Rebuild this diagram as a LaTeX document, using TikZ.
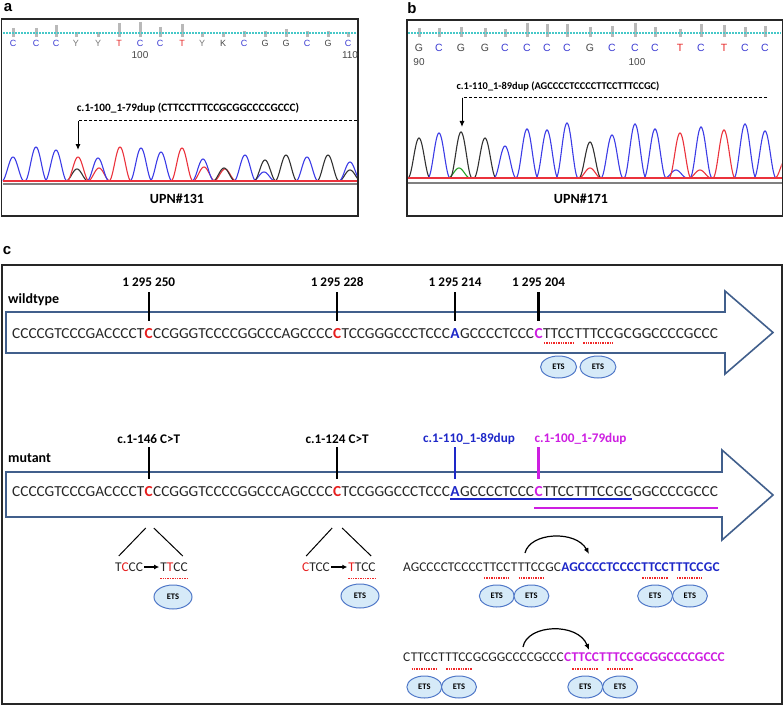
\documentclass[tikz,border=0pt]{standalone}
\usepackage{fontspec}
\setmainfont{Carlito}
\newfontfamily\arialf{Liberation Sans}
\usetikzlibrary{arrows.meta,shapes.geometric,calc}
\definecolor{seqblue}{RGB}{30,40,200}
\definecolor{seqmag}{RGB}{205,30,225}
\definecolor{seqred}{RGB}{230,30,30}
\definecolor{ulred}{RGB}{240,40,40}
\definecolor{arrowcol}{RGB}{65,95,140}
\definecolor{etsfill}{RGB}{214,234,248}
\definecolor{etsdraw}{RGB}{80,120,200}
\definecolor{cyanl}{RGB}{70,200,200}
\definecolor{pkblue}{RGB}{60,60,230}
\definecolor{pkred}{RGB}{235,50,60}
\definecolor{pkblack}{RGB}{50,50,50}
\definecolor{pkgreen}{RGB}{40,160,40}
\definecolor{lb}{RGB}{60,60,210}
\definecolor{lr}{RGB}{230,40,40}
\definecolor{lg}{RGB}{120,120,120}
\definecolor{lk}{RGB}{70,70,70}
\newcommand\chrompeak[4]{\draw[#4,line width=1.1pt] plot[domain=-11:11,samples=23,smooth] ({#1+\x},{#3-#2*(1+cos(180*\x/11))/2});}
\begin{document}
\begin{tikzpicture}[x=1pt,y=-1pt,
  seg/.style={inner sep=0pt, anchor=base west, font=\fontsize{15.3}{18}\selectfont, text=black!85},
  segb/.style={seg, font=\fontsize{15.3}{18}\selectfont\bfseries},
  dseg/.style={inner sep=0pt, anchor=base west, font=\fontsize{13.4}{16}\selectfont, text=black!85},
  dsegb/.style={dseg, font=\fontsize{13.4}{16}\selectfont\bfseries},
  small/.style={inner sep=1pt, font=\fontsize{13.4}{16}\selectfont, text=black!85},
  tickmark/.style={line width=2.5pt},
  lab/.style={font=\bfseries\fontsize{13.2}{15}\selectfont, inner sep=0pt},
  rowlab/.style={font=\bfseries\fontsize{14}{16}\selectfont, inner sep=0pt, anchor=west},
  ets/.style={ellipse, draw=etsdraw, fill=etsfill, line width=1pt, minimum width=36pt, minimum height=22pt, inner sep=0pt, font=\bfseries\fontsize{8.5}{9}\selectfont},
  etsp/.style={ets, minimum width=35pt},
  ul/.style={draw=ulred, line width=1.2pt, dash pattern=on 1.4pt off 1pt},
  dna/.style={draw=arrowcol, line width=1.6pt},
  panel/.style={draw=black!85, line width=1.6pt},
  bar/.style={draw=gray!55, line width=3pt},
  plab/.style={font=\arialf\bfseries\fontsize{15}{17}\selectfont, inner sep=0pt},
  annot/.style={font=\bfseries\fontsize{11.3}{13}\selectfont, inner sep=0pt},
  upn/.style={font=\bfseries\fontsize{14}{16}\selectfont, inner sep=0pt}
]
\useasboundingbox (0,0) rectangle (784,706);

% ---------------- panel a ----------------
\node[plab] (pa) at (8,8) {a};
\draw[panel] (1.5,19) rectangle (358,216);
\foreach \bx/\bl/\bc/\bt [count=\i] in {13/C/lb/28, 36/C/lb/28, 56/C/lb/25, 76/Y/lg/32, 98/Y/lg/32, 119/T/lr/23, 140/C/lb/22, 160/C/lb/27, 182/T/lr/24, 202/Y/lg/32, 223/K/lk/32, 244/C/lb/31, 265/G/lk/31, 286/G/lk/29, 307/C/lb/31, 328/G/lk/31, 348/C/lb/32}{
  \draw[bar] (\bx,\bt) -- (\bx,37);
  \node[font=\arialf\fontsize{9}{10}\selectfont, text=\bc, inner sep=0pt] (la\i) at (\bx,43) {\bl};
}
\draw[cyanl, line width=1.2pt, dash pattern=on 1.5pt off 1.5pt] (3,33) -- (357,33);
\node[font=\arialf\fontsize{10}{11}\selectfont, text=lk, inner sep=0pt] (na1) at (140,55) {100};
\node[font=\arialf\fontsize{10}{11}\selectfont, text=lk, inner sep=0pt] (na2) at (350,55) {110};
\node[annot] (anA) at (188,108) {c.1-100\_1-79dup (CTTCCTTTCCGCGGCCCCGCCC)};
\coordinate (aA) at (78,121);
\coordinate (aAend) at (357,121);
\coordinate (aAtip) at (78,150);
\draw[line width=1pt, dash pattern=on 3pt off 2pt] (aAend) -- (aA);
\draw[line width=1pt, -{Latex[length=6pt,width=5pt]}] (aA) -- (aAtip);
\begin{scope}
\clip (2.5,100) rectangle (357,181.5);
\foreach \px/\ph/\pc in {13/24/pkblue, 36/34/pkblue, 56/31/pkblue, 77/12/pkblack, 78/24/pkred, 99/13/pkred, 98/23/pkblue, 120/34/pkred, 141/33/pkblue, 161/29/pkblue, 182/33/pkred, 204/14/pkred, 203/22/pkblue, 225/12/pkred, 224/13/pkblack, 245/26/pkblue, 264/9/pkblue, 265/21/pkblack, 286/26/pkblack, 307/24/pkblue, 328/26/pkblack, 350/11/pkblack, 350/19/pkblue}{
  \chrompeak{\px}{\ph}{181}{\pc}
}
\end{scope}
\draw[pkred, line width=1.3pt] (2.5,181) -- (357,181);
\draw[gray, line width=1.2pt] (2.5,184) -- (357,184);
\node[upn] (upa) at (177,199) {UPN\#131};

% ---------------- panel b ----------------
\node[plab] (pb) at (412,8) {b};
\draw[panel] (407,20) rectangle (782.5,216);
\foreach \bx/\bl/\bc/\bt [count=\i] in {419/G/lk/28, 439/C/lb/28, 461/G/lk/27, 485/G/lk/28, 505/C/lb/29, 527/C/lb/23, 547/C/lb/24, 567/C/lb/24, 590/G/lk/27, 612/C/lb/26, 635/C/lb/23, 655/C/lb/27, 680/T/lr/29, 701/C/lb/24, 724/T/lr/25, 745/C/lb/27, 765/C/lb/26}{
  \draw[bar] (\bx,\bt) -- (\bx,37);
  \node[font=\arialf\fontsize{10.5}{12}\selectfont, text=\bc, inner sep=0pt] (lb\i) at (\bx,48) {\bl};
}
\draw[cyanl, line width=1.2pt, dash pattern=on 1.5pt off 1.5pt] (408,33) -- (781,33);
\node[font=\arialf\fontsize{10}{11}\selectfont, text=lk, inner sep=0pt] (nb1) at (419,62) {90};
\node[font=\arialf\fontsize{10}{11}\selectfont, text=lk, inner sep=0pt] (nb2) at (637,62) {100};
\node[annot, font=\bfseries\fontsize{10.4}{12}\selectfont] (anB) at (558,86) {c.1-110\_1-89dup (AGCCCCTCCCCTTCCTTTCCGC)};
\coordinate (bA) at (462,98);
\coordinate (bAend) at (767,98);
\coordinate (bAtip) at (462,127);
\draw[line width=1pt, dash pattern=on 3pt off 2pt] (bAend) -- (bA);
\draw[line width=1pt, -{Latex[length=6pt,width=5pt]}] (bA) -- (bAtip);
\begin{scope}
\clip (408,90) rectangle (781.5,178.5);
\foreach \px/\ph/\pc in {419/40/pkblack, 439/45/pkblue, 459/10/pkgreen, 461/46/pkblack, 485/40/pkblack, 505/32/pkblue, 527/49/pkblue, 547/48/pkblue, 567/55/pkblue, 590/10/pkred, 590/36/pkblack, 612/43/pkblue, 635/54/pkblue, 655/49/pkblue, 676/8/pkblue, 680/45/pkred, 700/8/pkred, 701/51/pkblue, 724/48/pkred, 745/54/pkblue, 765/47/pkblue, 786/20/pkred}{
  \chrompeak{\px}{\ph}{178}{\pc}
}
\end{scope}
\draw[pkred, line width=2pt] (408,178) -- (781.5,178);
\draw[gray, line width=1.2pt] (408,183) -- (781.5,183);
\node[upn] (upb) at (581,199) {UPN\#171};

% ---------------- panel c ----------------
\node[plab] (pc) at (7,251) {c};
\draw[panel] (2,265) rectangle (782,704);

% wildtype
\node[rowlab] (wt) at (8,300) {wildtype};
\draw[dna] (6,312) -- (725,312) -- (725,291) -- (773,332.5) -- (725,374) -- (725,353) -- (6,353) -- cycle;
\node[seg] (w1) at (12,338) {CCCCGTCCCGACCCCT};
\node[segb, text=seqred] (w2) at (w1.base east) {C};
\node[seg] (w3) at (w2.base east) {CCGGGTCCCCGGCCCAGCCCC};
\node[segb, text=seqred] (w4) at (w3.base east) {C};
\node[seg] (w5) at (w4.base east) {TCCGGGCCCTCCC};
\node[segb, text=seqblue] (w6) at (w5.base east) {A};
\node[seg] (w7) at (w6.base east) {GCCCCTCCC};
\node[segb, text=seqmag] (w8) at (w7.base east) {C};
\node[seg] (w9) at (w8.base east) {TTCC};
\node[seg] (w10) at (w9.base east) {T};
\node[seg] (w11) at (w10.base east) {TTCC};
\node[seg] (w12) at (w11.base east) {GC};
\node[seg] (w13) at (w12.base east) {GGCCCCGCCC};
\coordinate (tTW) at (0,292);
\coordinate (tBW) at (0,321);
\coordinate (lW) at (0,282);
\foreach \n/\t [count=\i] in {w2/1 295 250, w4/1 295 228, w6/1 295 214, w8/1 295 204}{
  \draw[tickmark] (\n.center |- tTW) -- (\n.center |- tBW);
  \node[lab] (wl\i) at (\n.center |- lW) {\t};
}
\draw[ul] ([xshift=1pt,yshift=-5pt]w9.base west) -- ([xshift=-1pt,yshift=-5pt]w9.base east);
\draw[ul] ([xshift=1pt,yshift=-5pt]w11.base west) -- ([xshift=-1pt,yshift=-5pt]w11.base east);
\coordinate (eW) at (0,367);
\node[ets] (ew1) at (w9.center |- eW) {ETS};
\node[ets] (ew2) at (w11.center |- eW) {ETS};

% mutant
\node[rowlab] (mt) at (8,458) {mutant};
\draw[dna] (6,472) -- (722,472) -- (722,450) -- (773,495) -- (722,540) -- (722,517) -- (6,517) -- cycle;
\node[seg] (m1) at (12,496) {CCCCGTCCCGACCCCT};
\node[segb, text=seqred] (m2) at (m1.base east) {C};
\node[seg] (m3) at (m2.base east) {CCGGGTCCCCGGCCCAGCCCC};
\node[segb, text=seqred] (m4) at (m3.base east) {C};
\node[seg] (m5) at (m4.base east) {TCCGGGCCCTCCC};
\node[segb, text=seqblue] (m6) at (m5.base east) {A};
\node[seg] (m7) at (m6.base east) {GCCCCTCCC};
\node[segb, text=seqmag] (m8) at (m7.base east) {C};
\node[seg] (m9) at (m8.base east) {TTCC};
\node[seg] (m10) at (m9.base east) {T};
\node[seg] (m11) at (m10.base east) {TTCC};
\node[seg] (m12) at (m11.base east) {GC};
\node[seg] (m13) at (m12.base east) {GGCCCCGCCC};
\coordinate (tTM) at (0,447);
\coordinate (tBM) at (0,479);
\coordinate (lM) at (0,439);
\draw[tickmark] (m2.center |- tTM) -- (m2.center |- tBM);
\draw[tickmark] (m4.center |- tTM) -- (m4.center |- tBM);
\draw[tickmark, seqblue] (m6.center |- tTM) -- (m6.center |- tBM);
\draw[tickmark, seqmag] (m8.center |- tTM) -- (m8.center |- tBM);
\node[lab] (ml1) at (m2.center |- lM) {c.1-146 C>T};
\node[lab] (ml2) at (m4.center |- lM) {c.1-124 C>T};
\path (m6.center |- lM) node[lab, text=seqblue, xshift=14pt] (ml3) {c.1-110\_1-89dup};
\path (m8.center |- lM) node[lab, text=seqmag, xshift=42pt] (ml4) {c.1-100\_1-79dup};
\draw[seqblue, line width=1.5pt] ([yshift=-3pt]m6.base west) -- ([yshift=-3pt]m12.base east);
\draw[seqmag, line width=1.5pt] ([yshift=-12pt]m8.base west) -- ([yshift=-12pt]m13.base east);

% C>T expansions
\coordinate (xA) at (0,528);
\draw[line width=1pt] (m2.center |- xA) ++(-3,0) -- ++(-27,28);
\draw[line width=1pt] (m2.center |- xA) ++(5,0) -- ++(29,28);
\draw[line width=1pt] (m4.center |- xA) ++(-5,0) -- ++(-26,28);
\draw[line width=1pt] (m4.center |- xA) ++(5,0) -- ++(29,28);
\node[small] (t1) at (129,567) {T\textcolor{seqred}{C}CC};
\node[small] (t2) at (174,567) {T\textcolor{seqred}{T}CC};
\draw[line width=1.2pt, -{Latex[length=5pt,width=5pt]}] (t1) -- (t2);
\node[small] (t3) at (316,567) {\textcolor{seqred}{C}TCC};
\node[small] (t4) at (362,567) {\textcolor{seqred}{T}TCC};
\draw[line width=1.2pt, -{Latex[length=5pt,width=5pt]}] (t3) -- (t4);
\draw[ul] ([xshift=1pt,yshift=-7pt]t2.base west) -- ([xshift=-1pt,yshift=-7pt]t2.base east);
\draw[ul] ([xshift=1pt,yshift=-7pt]t4.base west) -- ([xshift=-1pt,yshift=-7pt]t4.base east);
\node[ets, minimum width=38pt, minimum height=24pt] (et1) at (173,597) {ETS};
\node[ets, minimum width=38pt, minimum height=24pt] (et2) at (360,596) {ETS};

% duplication row 1
\node[dseg] (d1) at (403,571.3) {AGCCCCTCCCC};
\node[dseg] (d2) at (d1.base east) {TTCC};
\node[dseg] (d3) at (d2.base east) {T};
\node[dseg] (d4) at (d3.base east) {TTCC};
\node[dseg] (d5) at (d4.base east) {GC};
\node[dsegb, text=seqblue] (d6) at (d5.base east) {AGCCCCTCCCC};
\node[dsegb, text=seqblue] (d7) at (d6.base east) {TTCC};
\node[dsegb, text=seqblue] (d8) at (d7.base east) {T};
\node[dsegb, text=seqblue] (d9) at (d8.base east) {TTCC};
\node[dsegb, text=seqblue] (d10) at (d9.base east) {GC};
\foreach \n in {d2,d4,d7,d9}{
  \draw[ul] ([xshift=1pt,yshift=-6.7pt]\n.base west) -- ([xshift=-1pt,yshift=-6.7pt]\n.base east);
}
\coordinate (eD) at (0,596);
\node[etsp] (ed1) at (d2.center |- eD) {ETS};
\node[etsp] (ed2) at (d4.center |- eD) {ETS};
\node[etsp] (ed3) at (d7.center |- eD) {ETS};
\node[etsp] (ed4) at (d9.center |- eD) {ETS};
\coordinate (c1s) at (525,553);
\coordinate (c1e) at (589,554);
\draw[line width=1.2pt, -{Latex[length=6pt,width=5pt]}] (c1s) .. controls (530,532) and (576,530) .. (c1e);

% duplication row 2
\node[dseg] (f1) at (403,661.3) {C};
\node[dseg] (f2) at (f1.base east) {TTCC};
\node[dseg] (f3) at (f2.base east) {T};
\node[dseg] (f4) at (f3.base east) {TTCC};
\node[dseg] (f5) at (f4.base east) {GCGGCCCCGCCC};
\node[dsegb, text=seqmag] (f6) at (f5.base east) {C};
\node[dsegb, text=seqmag] (f7) at (f6.base east) {TTCC};
\node[dsegb, text=seqmag] (f8) at (f7.base east) {T};
\node[dsegb, text=seqmag] (f9) at (f8.base east) {TTCC};
\node[dsegb, text=seqmag] (f10) at (f9.base east) {GCGGCCCCGCCC};
\foreach \n in {f2,f4,f7,f9}{
  \draw[ul] ([xshift=1pt,yshift=-7.7pt]\n.base west) -- ([xshift=-1pt,yshift=-7.7pt]\n.base east);
}
\coordinate (eF) at (0,687);
\node[etsp] (ef1) at (f2.center |- eF) {ETS};
\node[etsp] (ef2) at (f4.center |- eF) {ETS};
\node[etsp] (ef3) at (f7.center |- eF) {ETS};
\node[etsp] (ef4) at (f9.center |- eF) {ETS};
\coordinate (c2s) at (523,647);
\coordinate (c2e) at (589,650);
\draw[line width=1.2pt, -{Latex[length=6pt,width=5pt]}] (c2s) .. controls (527,624) and (578,622) .. (c2e);
\end{tikzpicture}
\end{document}
